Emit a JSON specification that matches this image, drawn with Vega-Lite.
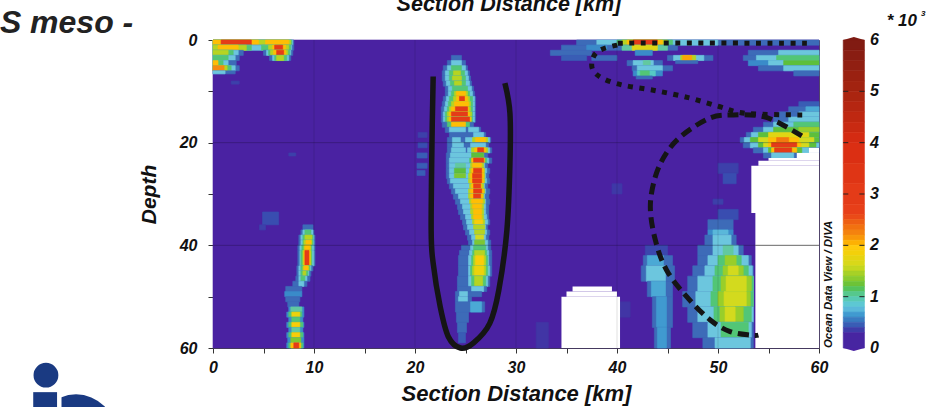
{"$schema":"https://vega.github.io/schema/vega-lite/v6.json","width":606,"height":308,"autosize":{"type":"none"},"padding":{"left":213,"top":40,"right":118,"bottom":59},"background":"white","config":{"view":{"stroke":"#555","strokeWidth":1},"font":"Liberation Sans"},
"layer":[
{"data":{"values":[
{"a":0,"b":60,"c":0,"d":60,"v":0},
{"a":0,"b":8,"c":0,"d":1,"v":0.5},{"a":0,"b":7.9,"c":0,"d":1,"v":0.8},{"a":0,"b":7.8,"c":0,"d":1,"v":1.1},{"a":0,"b":7.7,"c":0,"d":1,"v":1.5},{"a":0,"b":4.5,"c":0,"d":1,"v":2},{"a":5.2,"b":7.5,"c":0,"d":1,"v":2},{"a":0.8,"b":3.8,"c":0,"d":1,"v":3},
{"a":0,"b":8,"c":1,"d":2,"v":0.5},{"a":0,"b":7.8,"c":1,"d":2,"v":0.8},{"a":0,"b":3.8,"c":1,"d":2,"v":1.1},{"a":4.8,"b":7.7,"c":1,"d":2,"v":1.1},{"a":0,"b":3.3,"c":1,"d":2,"v":1.5},{"a":5.5,"b":7.5,"c":1,"d":2,"v":1.5},{"a":0.5,"b":2.5,"c":1,"d":2,"v":2},{"a":5.9,"b":7.2,"c":1,"d":2,"v":2},{"a":6.1,"b":6.9,"c":1,"d":2,"v":3},
{"a":0,"b":3,"c":2,"d":3,"v":0.5},{"a":5,"b":7.9,"c":2,"d":3,"v":0.5},{"a":0,"b":2.5,"c":2,"d":3,"v":0.8},{"a":5.3,"b":7.7,"c":2,"d":3,"v":0.8},{"a":0,"b":2,"c":2,"d":3,"v":1.1},{"a":5.5,"b":7.6,"c":2,"d":3,"v":1.1},{"a":0,"b":1.5,"c":2,"d":3,"v":1.5},{"a":5.7,"b":7.4,"c":2,"d":3,"v":1.5},{"a":6,"b":7.2,"c":2,"d":3,"v":2},{"a":6.3,"b":7,"c":2,"d":3,"v":3},
{"a":0,"b":2.6,"c":3,"d":4,"v":0.5},{"a":5.6,"b":7.7,"c":3,"d":4,"v":0.5},{"a":0,"b":2.2,"c":3,"d":4,"v":0.8},{"a":5.9,"b":7.5,"c":3,"d":4,"v":0.8},{"a":0,"b":1.5,"c":3,"d":4,"v":1.1},{"a":6.1,"b":7.3,"c":3,"d":4,"v":1.1},{"a":6.3,"b":7,"c":3,"d":4,"v":1.5},
{"a":0,"b":2.3,"c":4,"d":5,"v":0.5},{"a":0,"b":1.5,"c":4,"d":5,"v":0.8},{"a":0,"b":1,"c":4,"d":5,"v":1.1},{"a":0,"b":0.5,"c":4,"d":5,"v":2},
{"a":0,"b":2.6,"c":5,"d":6,"v":0.5},{"a":0,"b":2.2,"c":5,"d":6,"v":0.8},{"a":0,"b":1.8,"c":5,"d":6,"v":1.1},{"a":0,"b":1.4,"c":5,"d":6,"v":1.5},{"a":0,"b":1.1,"c":5,"d":6,"v":2.2},
{"a":0,"b":2.2,"c":6,"d":6.6,"v":0.5},{"a":0,"b":1.2,"c":6,"d":6.6,"v":0.8},
{"a":1.8,"b":2.6,"c":8,"d":8.6,"v":0.36},
{"a":23.6,"b":24.6,"c":3,"d":4,"v":0.5},
{"a":23.2,"b":25,"c":4,"d":5,"v":0.5},{"a":23.6,"b":24.6,"c":4,"d":5,"v":0.8},
{"a":22.8,"b":25.2,"c":5,"d":6,"v":0.5},{"a":23.2,"b":25,"c":5,"d":6,"v":0.8},{"a":23.6,"b":24.6,"c":5,"d":6,"v":1.1},
{"a":22.7,"b":25.4,"c":6,"d":7,"v":0.5},{"a":23,"b":25.2,"c":6,"d":7,"v":0.8},{"a":23.4,"b":24.9,"c":6,"d":7,"v":1.1},{"a":23.8,"b":24.5,"c":6,"d":7,"v":1.5},
{"a":22.7,"b":25.5,"c":7,"d":8,"v":0.5},{"a":23,"b":25.3,"c":7,"d":8,"v":0.8},{"a":23.4,"b":25,"c":7,"d":8,"v":1.1},{"a":23.7,"b":24.6,"c":7,"d":8,"v":1.5},
{"a":22.8,"b":25.6,"c":8,"d":9,"v":0.5},{"a":23.1,"b":25.4,"c":8,"d":9,"v":0.8},{"a":23.5,"b":25,"c":8,"d":9,"v":1.1},{"a":23.9,"b":24.6,"c":8,"d":9,"v":1.5},
{"a":23,"b":25.8,"c":9,"d":10,"v":0.5},{"a":23.3,"b":25.6,"c":9,"d":10,"v":0.8},{"a":23.7,"b":25.2,"c":9,"d":10,"v":1.1},
{"a":23,"b":25.9,"c":10,"d":11,"v":0.5},{"a":23.3,"b":25.7,"c":10,"d":11,"v":0.8},{"a":23.6,"b":25.4,"c":10,"d":11,"v":1.1},{"a":23.9,"b":25.2,"c":10,"d":11,"v":1.5},{"a":24.1,"b":25,"c":10,"d":11,"v":2},
{"a":22.8,"b":26,"c":11,"d":12,"v":0.5},{"a":23.1,"b":25.9,"c":11,"d":12,"v":0.8},{"a":23.4,"b":25.7,"c":11,"d":12,"v":1.1},{"a":23.8,"b":25.4,"c":11,"d":12,"v":1.5},{"a":24.1,"b":25.2,"c":11,"d":12,"v":2},{"a":24.4,"b":24.9,"c":11,"d":12,"v":3},
{"a":22.7,"b":26,"c":12,"d":13,"v":0.5},{"a":23,"b":25.9,"c":12,"d":13,"v":0.8},{"a":23.3,"b":25.7,"c":12,"d":13,"v":1.1},{"a":23.6,"b":25.5,"c":12,"d":13,"v":1.5},{"a":23.9,"b":25.3,"c":12,"d":13,"v":2},
{"a":22.6,"b":26,"c":13,"d":14,"v":0.5},{"a":22.9,"b":25.9,"c":13,"d":14,"v":0.8},{"a":23.2,"b":25.7,"c":13,"d":14,"v":1.1},{"a":23.4,"b":25.5,"c":13,"d":14,"v":1.5},{"a":23.6,"b":25.3,"c":13,"d":14,"v":2},{"a":24,"b":25.2,"c":13,"d":14,"v":3},
{"a":22.6,"b":26,"c":14,"d":15,"v":0.5},{"a":22.8,"b":25.9,"c":14,"d":15,"v":0.8},{"a":23,"b":25.7,"c":14,"d":15,"v":1.1},{"a":23.2,"b":25.6,"c":14,"d":15,"v":1.5},{"a":23.4,"b":25.4,"c":14,"d":15,"v":2},{"a":23.6,"b":25.2,"c":14,"d":15,"v":3},
{"a":22.6,"b":26,"c":15,"d":16,"v":0.5},{"a":22.8,"b":25.9,"c":15,"d":16,"v":0.8},{"a":23,"b":25.7,"c":15,"d":16,"v":1.1},{"a":23.2,"b":25.6,"c":15,"d":16,"v":1.5},{"a":23.4,"b":25.5,"c":15,"d":16,"v":2},{"a":23.6,"b":25.4,"c":15,"d":16,"v":3},
{"a":22.7,"b":25.8,"c":16,"d":17,"v":0.5},{"a":23.2,"b":25.4,"c":16,"d":17,"v":1.1},{"a":23.6,"b":25,"c":16,"d":17,"v":2},
{"a":23,"b":26.5,"c":17,"d":18,"v":0.5},{"a":23.4,"b":25,"c":17,"d":18,"v":0.8},{"a":25.3,"b":26.3,"c":17,"d":18,"v":0.8},
{"a":23.4,"b":27,"c":18,"d":19,"v":0.5},{"a":25.8,"b":26.8,"c":18,"d":19,"v":0.8},
{"a":23.2,"b":27.5,"c":19,"d":20,"v":0.5},{"a":23.7,"b":24.5,"c":19,"d":20,"v":0.8},{"a":25,"b":27.4,"c":19,"d":20,"v":0.8},{"a":25.7,"b":27.2,"c":19,"d":20,"v":1.5},{"a":26,"b":27,"c":19,"d":20,"v":2},
{"a":23.2,"b":27.3,"c":20,"d":21,"v":0.5},{"a":23.7,"b":24.8,"c":20,"d":21,"v":0.8},{"a":25.5,"b":27,"c":20,"d":21,"v":0.8},
{"a":23.2,"b":27.6,"c":21,"d":22,"v":0.5},{"a":23.6,"b":25,"c":21,"d":22,"v":0.8},{"a":25.2,"b":27.4,"c":21,"d":22,"v":0.8},{"a":25.6,"b":27.2,"c":21,"d":22,"v":1.5},{"a":25.9,"b":27,"c":21,"d":22,"v":2},{"a":26.2,"b":26.8,"c":21,"d":22,"v":3},
{"a":23.1,"b":27.2,"c":22,"d":23,"v":0.5},{"a":23.5,"b":26.8,"c":22,"d":23,"v":0.8},{"a":25.6,"b":26.8,"c":22,"d":23,"v":1.2},
{"a":23.1,"b":27.6,"c":23,"d":24,"v":0.5},{"a":23.4,"b":27.3,"c":23,"d":24,"v":0.8},{"a":25.4,"b":27.1,"c":23,"d":24,"v":1.1},{"a":25.6,"b":26.9,"c":23,"d":24,"v":2},{"a":25.8,"b":26.8,"c":23,"d":24,"v":3},
{"a":23.1,"b":27.2,"c":24,"d":25,"v":0.5},{"a":23.4,"b":26.9,"c":24,"d":25,"v":0.8},{"a":24,"b":25,"c":24,"d":25,"v":1},{"a":25.5,"b":26.8,"c":24,"d":25,"v":1.5},{"a":25.7,"b":26.6,"c":24,"d":25,"v":2},
{"a":23.1,"b":27.4,"c":25,"d":26,"v":0.5},{"a":23.4,"b":27.1,"c":25,"d":26,"v":0.8},{"a":23.9,"b":25,"c":25,"d":26,"v":1.2},{"a":25.4,"b":26.9,"c":25,"d":26,"v":1.5},{"a":25.6,"b":26.8,"c":25,"d":26,"v":2},{"a":25.8,"b":26.6,"c":25,"d":26,"v":3},
{"a":23.1,"b":27.3,"c":26,"d":27,"v":0.5},{"a":23.4,"b":27,"c":26,"d":27,"v":0.8},{"a":23.9,"b":25,"c":26,"d":27,"v":1.3},{"a":25.3,"b":26.9,"c":26,"d":27,"v":1.5},{"a":25.5,"b":26.8,"c":26,"d":27,"v":2},{"a":25.7,"b":26.6,"c":26,"d":27,"v":3},
{"a":23.2,"b":27.4,"c":27,"d":28,"v":0.5},{"a":23.5,"b":27.1,"c":27,"d":28,"v":0.8},{"a":25.3,"b":26.9,"c":27,"d":28,"v":1.5},{"a":25.5,"b":26.8,"c":27,"d":28,"v":2},{"a":25.7,"b":26.6,"c":27,"d":28,"v":3},
{"a":23.4,"b":27.2,"c":28,"d":29,"v":0.5},{"a":23.8,"b":26.9,"c":28,"d":29,"v":0.8},{"a":25.4,"b":26.8,"c":28,"d":29,"v":1.5},{"a":25.6,"b":26.6,"c":28,"d":29,"v":2},{"a":25.8,"b":26.5,"c":28,"d":29,"v":2.6},
{"a":23.6,"b":27.4,"c":29,"d":30,"v":0.5},{"a":24,"b":27,"c":29,"d":30,"v":0.8},{"a":25.3,"b":26.9,"c":29,"d":30,"v":1.5},{"a":25.5,"b":26.8,"c":29,"d":30,"v":2},{"a":25.8,"b":26.6,"c":29,"d":30,"v":3},
{"a":23.8,"b":27.3,"c":30,"d":31,"v":0.5},{"a":24.3,"b":26.9,"c":30,"d":31,"v":0.8},{"a":25.3,"b":26.8,"c":30,"d":31,"v":1.5},{"a":25.5,"b":26.7,"c":30,"d":31,"v":2},{"a":25.8,"b":26.5,"c":30,"d":31,"v":2.8},
{"a":24,"b":27.4,"c":31,"d":32,"v":0.5},{"a":24.5,"b":27,"c":31,"d":32,"v":0.8},{"a":25.4,"b":26.9,"c":31,"d":32,"v":1.5},{"a":25.6,"b":26.7,"c":31,"d":32,"v":2},
{"a":24.2,"b":27.3,"c":32,"d":33,"v":0.5},{"a":24.7,"b":27,"c":32,"d":33,"v":0.8},{"a":25.5,"b":26.8,"c":32,"d":33,"v":1.5},{"a":25.7,"b":26.6,"c":32,"d":33,"v":2},
{"a":24.3,"b":27.3,"c":33,"d":34,"v":0.5},{"a":24.8,"b":27,"c":33,"d":34,"v":0.8},{"a":25.5,"b":26.8,"c":33,"d":34,"v":1.5},{"a":25.8,"b":26.6,"c":33,"d":34,"v":2},
{"a":24.5,"b":27.3,"c":34,"d":35,"v":0.5},{"a":25,"b":27.1,"c":34,"d":35,"v":0.8},{"a":25.6,"b":26.8,"c":34,"d":35,"v":1.5},{"a":25.8,"b":26.6,"c":34,"d":35,"v":2},
{"a":24.7,"b":27.4,"c":35,"d":36,"v":0.5},{"a":25.1,"b":27.2,"c":35,"d":36,"v":0.8},{"a":25.7,"b":26.9,"c":35,"d":36,"v":1.5},{"a":25.9,"b":26.7,"c":35,"d":36,"v":1.9},
{"a":24.8,"b":27.2,"c":36,"d":37,"v":0.5},{"a":25.2,"b":27,"c":36,"d":37,"v":0.8},{"a":25.8,"b":26.9,"c":36,"d":37,"v":1.5},
{"a":25,"b":27.4,"c":37,"d":38,"v":0.5},{"a":25.4,"b":27.1,"c":37,"d":38,"v":0.8},{"a":25.9,"b":26.9,"c":37,"d":38,"v":1.5},
{"a":25.2,"b":27.3,"c":38,"d":39,"v":0.5},{"a":25.6,"b":27,"c":38,"d":39,"v":0.8},{"a":26,"b":26.8,"c":38,"d":39,"v":1.6},
{"a":25.3,"b":27.5,"c":39,"d":40,"v":0.5},{"a":25.7,"b":27.2,"c":39,"d":40,"v":0.8},{"a":25.9,"b":26.9,"c":39,"d":40,"v":1.3},
{"a":24.6,"b":27.5,"c":40,"d":41,"v":0.5},{"a":25.5,"b":27.2,"c":40,"d":41,"v":0.8},{"a":25.8,"b":27,"c":40,"d":41,"v":1.1},
{"a":24.4,"b":27.6,"c":41,"d":42,"v":0.5},{"a":25.4,"b":27.3,"c":41,"d":42,"v":0.8},{"a":25.7,"b":27.1,"c":41,"d":42,"v":1.1},{"a":25.9,"b":26.9,"c":41,"d":42,"v":1.5},
{"a":24.3,"b":27.6,"c":42,"d":44,"v":0.5},{"a":25.3,"b":27.3,"c":42,"d":44,"v":0.8},{"a":25.6,"b":27.2,"c":42,"d":44,"v":1.1},{"a":25.8,"b":27,"c":42,"d":44,"v":1.5},{"a":26,"b":26.8,"c":42,"d":44,"v":1.9},
{"a":24.3,"b":27.6,"c":44,"d":46,"v":0.5},{"a":25.3,"b":27.4,"c":44,"d":46,"v":0.8},{"a":25.5,"b":27.2,"c":44,"d":46,"v":1.1},{"a":25.7,"b":27,"c":44,"d":46,"v":1.5},{"a":25.9,"b":26.8,"c":44,"d":46,"v":1.8},
{"a":24.2,"b":27.4,"c":46,"d":48,"v":0.5},{"a":25.3,"b":27.2,"c":46,"d":48,"v":0.8},{"a":25.6,"b":27,"c":46,"d":48,"v":1.1},{"a":25.9,"b":26.7,"c":46,"d":48,"v":1.5},
{"a":24.2,"b":27.1,"c":48,"d":49,"v":0.5},{"a":25.6,"b":26.8,"c":48,"d":49,"v":0.8},
{"a":24,"b":26.6,"c":49,"d":50,"v":0.5},{"a":24.4,"b":25.2,"c":49,"d":50,"v":0.8},
{"a":24,"b":25.6,"c":50,"d":51,"v":0.5},{"a":24.3,"b":25.2,"c":50,"d":51,"v":0.8},
{"a":24,"b":26.9,"c":51,"d":53,"v":0.5},{"a":25.5,"b":26.6,"c":51,"d":53,"v":0.7},
{"a":24.1,"b":25.3,"c":53,"d":55,"v":0.5},
{"a":24.2,"b":25.1,"c":55,"d":57,"v":0.5},
{"a":24.3,"b":25,"c":57,"d":59,"v":0.45},
{"a":20.3,"b":21.2,"c":18,"d":19,"v":0.36},{"a":20.3,"b":21.2,"c":20,"d":21,"v":0.4},{"a":20.2,"b":21.2,"c":22,"d":23,"v":0.45},{"a":20.2,"b":21.2,"c":24,"d":25,"v":0.45},{"a":20.2,"b":21,"c":25.4,"d":26.4,"v":0.45},
{"a":7.5,"b":8.2,"c":22,"d":22.6,"v":0.36},
{"a":4.9,"b":6.5,"c":33.5,"d":36,"v":0.4},{"a":4.6,"b":5.2,"c":36,"d":37,"v":0.36},
{"a":8.9,"b":9.9,"c":36,"d":37,"v":0.5},
{"a":8.7,"b":10,"c":37,"d":38,"v":0.5},{"a":8.9,"b":9.9,"c":37,"d":38,"v":0.8},{"a":9.1,"b":9.7,"c":37,"d":38,"v":1.1},
{"a":8.5,"b":10.1,"c":38,"d":39,"v":0.5},{"a":8.7,"b":10,"c":38,"d":39,"v":0.8},{"a":8.9,"b":9.9,"c":38,"d":39,"v":1.1},{"a":9.1,"b":9.8,"c":38,"d":39,"v":1.5},
{"a":8.5,"b":10.1,"c":39,"d":40,"v":0.5},{"a":8.7,"b":10,"c":39,"d":40,"v":0.8},{"a":8.9,"b":9.9,"c":39,"d":40,"v":1.1},{"a":9,"b":9.8,"c":39,"d":40,"v":1.5},{"a":9.2,"b":9.7,"c":39,"d":40,"v":2},
{"a":8.4,"b":10.1,"c":40,"d":41,"v":0.5},{"a":8.6,"b":10,"c":40,"d":41,"v":0.8},{"a":8.8,"b":9.8,"c":40,"d":41,"v":1.1},{"a":9,"b":9.7,"c":40,"d":41,"v":1.5},{"a":9.1,"b":9.6,"c":40,"d":41,"v":2},
{"a":8.4,"b":10.1,"c":41,"d":44,"v":0.5},{"a":8.6,"b":10,"c":41,"d":44,"v":0.8},{"a":8.7,"b":9.8,"c":41,"d":44,"v":1.1},{"a":8.9,"b":9.7,"c":41,"d":44,"v":1.5},{"a":9,"b":9.6,"c":41,"d":44,"v":2},{"a":9.1,"b":9.5,"c":41,"d":44,"v":3},
{"a":8.3,"b":9.9,"c":44,"d":45,"v":0.5},{"a":8.5,"b":9.7,"c":44,"d":45,"v":0.8},{"a":8.7,"b":9.6,"c":44,"d":45,"v":1.1},{"a":8.9,"b":9.5,"c":44,"d":45,"v":1.5},{"a":9,"b":9.4,"c":44,"d":45,"v":2},
{"a":8.3,"b":9.7,"c":45,"d":46,"v":0.5},{"a":8.5,"b":9.5,"c":45,"d":46,"v":0.8},{"a":8.7,"b":9.4,"c":45,"d":46,"v":1.1},{"a":8.9,"b":9.2,"c":45,"d":46,"v":1.5},
{"a":8.2,"b":9.6,"c":46,"d":47,"v":0.5},{"a":8.5,"b":9.3,"c":46,"d":47,"v":0.8},{"a":8.7,"b":9.1,"c":46,"d":47,"v":1.1},
{"a":7.9,"b":9.3,"c":47,"d":48,"v":0.5},{"a":8.5,"b":9,"c":47,"d":48,"v":0.8},
{"a":7.2,"b":8.8,"c":48,"d":49,"v":0.5},{"a":7.1,"b":8.8,"c":49,"d":50,"v":0.6},{"a":7.2,"b":8.6,"c":50,"d":51,"v":0.5},{"a":7.4,"b":8.5,"c":51,"d":52,"v":0.5},
{"a":7.5,"b":9,"c":52,"d":53,"v":0.6},{"a":7.7,"b":8.8,"c":52,"d":53,"v":1},
{"a":7.3,"b":9,"c":53,"d":54,"v":0.6},{"a":7.5,"b":8.8,"c":53,"d":54,"v":1.1},{"a":7.8,"b":8.6,"c":53,"d":54,"v":1.8},
{"a":7.5,"b":8.9,"c":54,"d":55,"v":0.6},{"a":7.8,"b":8.6,"c":54,"d":55,"v":1.1},
{"a":7.3,"b":9,"c":55,"d":56,"v":0.6},{"a":7.5,"b":8.9,"c":55,"d":56,"v":1.1},{"a":7.8,"b":8.6,"c":55,"d":56,"v":1.9},
{"a":7.5,"b":8.9,"c":56,"d":57,"v":0.6},{"a":7.8,"b":8.6,"c":56,"d":57,"v":1},
{"a":7.3,"b":9,"c":57,"d":58,"v":0.6},{"a":7.5,"b":8.9,"c":57,"d":58,"v":1.1},{"a":7.8,"b":8.6,"c":57,"d":58,"v":1.9},
{"a":7.4,"b":9,"c":58,"d":59,"v":0.6},{"a":7.7,"b":8.7,"c":58,"d":59,"v":1.3},
{"a":7.3,"b":9,"c":59,"d":60,"v":0.6},{"a":7.5,"b":8.9,"c":59,"d":60,"v":1.1},{"a":7.7,"b":8.7,"c":59,"d":60,"v":2},{"a":8,"b":8.5,"c":59,"d":60,"v":3},
{"a":36,"b":60,"c":0,"d":1,"v":0.5},{"a":38,"b":50,"c":0,"d":1,"v":0.8},{"a":40,"b":45.5,"c":0,"d":1,"v":1.1},{"a":40.5,"b":45,"c":0,"d":1,"v":1.5},{"a":41,"b":44.5,"c":0,"d":1,"v":2},{"a":41.6,"b":44,"c":0,"d":1,"v":3},
{"a":34.5,"b":46,"c":1,"d":2,"v":0.5},{"a":37,"b":39,"c":1,"d":2,"v":0.6},{"a":40.5,"b":45,"c":1,"d":2,"v":1},{"a":41.5,"b":44,"c":1,"d":2,"v":1.7},
{"a":33.4,"b":37.5,"c":2,"d":3,"v":0.5},{"a":41.8,"b":43.5,"c":2,"d":3,"v":0.6},{"a":53,"b":60,"c":2,"d":3,"v":0.5},{"a":56,"b":60,"c":2,"d":3,"v":0.8},
{"a":34.5,"b":37,"c":3,"d":4,"v":0.45},{"a":37.5,"b":40,"c":3,"d":4,"v":0.5},{"a":45,"b":49.5,"c":3,"d":4,"v":0.5},{"a":45.6,"b":48.6,"c":3,"d":4,"v":0.8},{"a":46.3,"b":47.8,"c":3,"d":4,"v":1.5},{"a":46.5,"b":47.4,"c":3,"d":4,"v":2.1},{"a":52.5,"b":60,"c":3,"d":4,"v":0.5},{"a":53.8,"b":60,"c":3,"d":4,"v":0.8},{"a":55.8,"b":60,"c":3,"d":4,"v":1.1},
{"a":45.8,"b":48,"c":4,"d":4.6,"v":0.5},{"a":41,"b":44.5,"c":4,"d":5,"v":0.5},{"a":41.6,"b":43.6,"c":4,"d":5,"v":0.8},{"a":42.6,"b":43.3,"c":4,"d":5,"v":1},{"a":53,"b":60,"c":4,"d":5,"v":0.6},{"a":55,"b":60,"c":4,"d":5,"v":0.8},{"a":56.5,"b":60,"c":4,"d":5,"v":1.2},
{"a":41.5,"b":45.5,"c":5,"d":6,"v":0.5},{"a":42,"b":44.5,"c":5,"d":6,"v":0.8},{"a":54,"b":60,"c":5,"d":6,"v":0.5},{"a":56.5,"b":60,"c":5,"d":6,"v":0.8},
{"a":41.6,"b":44.5,"c":6,"d":7,"v":0.6},{"a":42,"b":43.8,"c":6,"d":7,"v":0.9},{"a":42.3,"b":43.2,"c":6,"d":7,"v":1.1},{"a":57.5,"b":60,"c":6,"d":7,"v":0.5},
{"a":41.9,"b":43.5,"c":7,"d":7.6,"v":0.5},
{"a":58,"b":60,"c":12,"d":13,"v":0.45},
{"a":57,"b":60,"c":13,"d":14,"v":0.5},{"a":58.7,"b":60,"c":13,"d":14,"v":0.7},
{"a":56,"b":60,"c":14,"d":15,"v":0.5},{"a":58,"b":60,"c":14,"d":15,"v":0.8},
{"a":55.5,"b":60,"c":15,"d":16,"v":0.5},{"a":57,"b":60,"c":15,"d":16,"v":0.8},
{"a":54.5,"b":60,"c":16,"d":17,"v":0.5},{"a":55.5,"b":60,"c":16,"d":17,"v":0.8},{"a":57.5,"b":60,"c":16,"d":17,"v":1.1},
{"a":53.5,"b":60,"c":17,"d":18,"v":0.5},{"a":54.5,"b":60,"c":17,"d":18,"v":0.8},{"a":55.5,"b":60,"c":17,"d":18,"v":1.2},{"a":58,"b":60,"c":17,"d":18,"v":1.4},
{"a":52.8,"b":60,"c":18,"d":19,"v":0.5},{"a":53.3,"b":60,"c":18,"d":19,"v":0.8},{"a":54,"b":60,"c":18,"d":19,"v":1.2},{"a":55,"b":59,"c":18,"d":19,"v":1.7},
{"a":52.2,"b":60,"c":19,"d":20,"v":0.5},{"a":52.6,"b":60,"c":19,"d":20,"v":0.8},{"a":53.2,"b":60,"c":19,"d":20,"v":1.2},{"a":54,"b":59.5,"c":19,"d":20,"v":1.6},{"a":55,"b":58,"c":19,"d":20,"v":2},{"a":55.8,"b":57,"c":19,"d":20,"v":2.3},
{"a":52.5,"b":60,"c":20,"d":21,"v":0.5},{"a":53.2,"b":60,"c":20,"d":21,"v":0.8},{"a":54,"b":59.7,"c":20,"d":21,"v":1.2},{"a":54.5,"b":59,"c":20,"d":21,"v":1.6},{"a":55,"b":58.2,"c":20,"d":21,"v":2},{"a":55.3,"b":57.8,"c":20,"d":21,"v":3},
{"a":53.5,"b":60,"c":21,"d":22,"v":0.5},{"a":54.5,"b":59,"c":21,"d":22,"v":0.8},{"a":55,"b":58.3,"c":21,"d":22,"v":1.2},{"a":55.3,"b":57.8,"c":21,"d":22,"v":2},{"a":55.6,"b":57.3,"c":21,"d":22,"v":3},
{"a":54.5,"b":58,"c":22,"d":23,"v":0.5},{"a":55.3,"b":57.5,"c":22,"d":23,"v":0.8},
{"a":50,"b":52,"c":24,"d":26,"v":0.36},{"a":50.5,"b":51.8,"c":26,"d":28,"v":0.4},
{"a":39.5,"b":40.5,"c":28,"d":30,"v":0.34},{"a":49.5,"b":50.5,"c":31,"d":32,"v":0.36},{"a":50,"b":52,"c":33,"d":35,"v":0.4},
{"a":49,"b":51.5,"c":35,"d":37,"v":0.5},{"a":49,"b":51.5,"c":37,"d":38,"v":0.6},{"a":49.5,"b":51,"c":37,"d":38,"v":0.75},
{"a":48.7,"b":51.8,"c":38,"d":40,"v":0.5},{"a":49.5,"b":51.3,"c":38,"d":40,"v":0.8},
{"a":48,"b":52.5,"c":40,"d":42,"v":0.5},{"a":49.5,"b":52,"c":40,"d":42,"v":0.8},{"a":50.5,"b":51.5,"c":40,"d":42,"v":1},
{"a":42.8,"b":45,"c":40,"d":42,"v":0.38},
{"a":48,"b":53.3,"c":42,"d":44,"v":0.5},{"a":49,"b":53,"c":42,"d":44,"v":0.8},{"a":50,"b":52.3,"c":42,"d":44,"v":1.1},{"a":50.7,"b":51.8,"c":42,"d":44,"v":1.4},
{"a":42.6,"b":45.5,"c":42,"d":44,"v":0.5},{"a":43,"b":44.6,"c":42,"d":44,"v":0.7},
{"a":47.5,"b":53.5,"c":44,"d":46,"v":0.5},{"a":48.7,"b":53.4,"c":44,"d":46,"v":0.8},{"a":49.7,"b":53,"c":44,"d":46,"v":1.1},{"a":50.5,"b":52.5,"c":44,"d":46,"v":1.4},{"a":51,"b":52,"c":44,"d":46,"v":1.6},
{"a":42.4,"b":45.7,"c":44,"d":47,"v":0.5},{"a":42.9,"b":44.8,"c":44,"d":47,"v":0.8},
{"a":47,"b":53.5,"c":46,"d":49,"v":0.5},{"a":48,"b":53.5,"c":46,"d":49,"v":0.8},{"a":49.5,"b":53.5,"c":46,"d":49,"v":1.1},{"a":50.3,"b":53.3,"c":46,"d":49,"v":1.4},{"a":50.8,"b":52.8,"c":46,"d":49,"v":1.6},
{"a":43,"b":45.5,"c":47,"d":50,"v":0.5},{"a":43.4,"b":44.8,"c":47,"d":50,"v":0.7},
{"a":46.5,"b":53.5,"c":49,"d":52,"v":0.5},{"a":47.8,"b":53.5,"c":49,"d":52,"v":0.8},{"a":49.3,"b":53.5,"c":49,"d":52,"v":1.1},{"a":50,"b":53.2,"c":49,"d":52,"v":1.4},{"a":50.6,"b":52.8,"c":49,"d":52,"v":1.6},
{"a":43.5,"b":45.5,"c":50,"d":56,"v":0.5},{"a":43.9,"b":44.9,"c":50,"d":56,"v":0.65},
{"a":47,"b":53.5,"c":52,"d":55,"v":0.5},{"a":48,"b":53.5,"c":52,"d":55,"v":0.8},{"a":49.6,"b":53.3,"c":52,"d":55,"v":1.1},{"a":50.2,"b":52.5,"c":52,"d":55,"v":1.4},{"a":50.7,"b":51.7,"c":52,"d":55,"v":1.6},
{"a":47.5,"b":53.5,"c":55,"d":58,"v":0.5},{"a":49,"b":53.3,"c":55,"d":58,"v":0.8},{"a":50.3,"b":53,"c":55,"d":58,"v":1.1},
{"a":43.7,"b":45.3,"c":56,"d":60,"v":0.5},{"a":44,"b":44.9,"c":56,"d":60,"v":0.65},
{"a":48.5,"b":53.5,"c":58,"d":60,"v":0.5},{"a":49.7,"b":53.2,"c":58,"d":60,"v":0.8},
{"a":40.2,"b":41.3,"c":51,"d":54,"v":0.33},{"a":32,"b":33.2,"c":55,"d":60,"v":0.33},
{"a":62.4,"b":64.5,"c":0,"d":2,"v":5.9},{"a":62.4,"b":64.5,"c":2,"d":4,"v":5.7},{"a":62.4,"b":64.5,"c":4,"d":6,"v":5.5},{"a":62.4,"b":64.5,"c":6,"d":8,"v":5.3},{"a":62.4,"b":64.5,"c":8,"d":10,"v":5.1},{"a":62.4,"b":64.5,"c":10,"d":12,"v":4.9},{"a":62.4,"b":64.5,"c":12,"d":14,"v":4.7},{"a":62.4,"b":64.5,"c":14,"d":16,"v":4.5},{"a":62.4,"b":64.5,"c":16,"d":18,"v":4.3},{"a":62.4,"b":64.5,"c":18,"d":20,"v":4.1},{"a":62.4,"b":64.5,"c":20,"d":24,"v":3.8},{"a":62.4,"b":64.5,"c":24,"d":28,"v":3.4},{"a":62.4,"b":64.5,"c":28,"d":32,"v":3},{"a":62.4,"b":64.5,"c":32,"d":34,"v":2.7},{"a":62.4,"b":64.5,"c":34,"d":35,"v":2.55},{"a":62.4,"b":64.5,"c":35,"d":36,"v":2.45},{"a":62.4,"b":64.5,"c":36,"d":37,"v":2.35},{"a":62.4,"b":64.5,"c":37,"d":38,"v":2.25},{"a":62.4,"b":64.5,"c":38,"d":39,"v":2.15},{"a":62.4,"b":64.5,"c":39,"d":40,"v":2.05},{"a":62.4,"b":64.5,"c":40,"d":41,"v":1.95},{"a":62.4,"b":64.5,"c":41,"d":42,"v":1.85},{"a":62.4,"b":64.5,"c":42,"d":43,"v":1.75},{"a":62.4,"b":64.5,"c":43,"d":44,"v":1.65},{"a":62.4,"b":64.5,"c":44,"d":45,"v":1.55},{"a":62.4,"b":64.5,"c":45,"d":46,"v":1.45},{"a":62.4,"b":64.5,"c":46,"d":47,"v":1.35},{"a":62.4,"b":64.5,"c":47,"d":48,"v":1.25},{"a":62.4,"b":64.5,"c":48,"d":49,"v":1.15},{"a":62.4,"b":64.5,"c":49,"d":50,"v":1.05},{"a":62.4,"b":64.5,"c":50,"d":51,"v":0.95},{"a":62.4,"b":64.5,"c":51,"d":52,"v":0.85},{"a":62.4,"b":64.5,"c":52,"d":53,"v":0.75},{"a":62.4,"b":64.5,"c":53,"d":54,"v":0.65},{"a":62.4,"b":64.5,"c":54,"d":55,"v":0.55},{"a":62.4,"b":64.5,"c":55,"d":56,"v":0.45},{"a":62.4,"b":64.5,"c":56,"d":57,"v":0.35},{"a":62.4,"b":64.5,"c":57,"d":60,"v":0.15}
]},"mark":{"type":"rect","strokeWidth":0.6,"clip":false},"encoding":{
"x":{"field":"a","type":"quantitative","scale":{"domain":[0,60],"nice":false},"axis":{"values":[0,5,10,15,20,25,30,35,40,45,50,55,60],"labelExpr":"datum.value%10==0?datum.label:''","grid":false,"labelFlush":false,"domainColor":"#444","tickColor":"#333","tickSize":5,"labelFont":"Liberation Sans","labelFontSize":16,"labelFontWeight":"bold","labelFontStyle":"italic","labelColor":"#111","labelPadding":6,"title":"Section Distance [km]","titleFont":"Liberation Sans","titleFontSize":22,"titleFontWeight":"bold","titleFontStyle":"italic","titleColor":"#111","titlePadding":8,"labelOverlap":false}},
"x2":{"field":"b"},
"y":{"field":"c","type":"quantitative","scale":{"domain":[0,60],"reverse":true,"nice":false},"axis":{"values":[0,10,20,30,40,50,60],"labelExpr":"datum.value%20==0?datum.label:''","grid":false,"labelFlush":false,"domainColor":"#444","tickColor":"#333","tickSize":5,"labelFont":"Liberation Sans","labelFontSize":16,"labelFontWeight":"bold","labelFontStyle":"italic","labelColor":"#111","labelPadding":11,"title":"Depth","titleFont":"Liberation Sans","titleFontSize":21,"titleFontWeight":"bold","titleFontStyle":"italic","titleColor":"#111","titlePadding":20,"labelOverlap":false}},
"y2":{"field":"d"},
"fill":{"field":"v","type":"quantitative","scale":{"domain":[0,0.3,0.5,0.8,1,1.2,1.6,1.95,2.2,2.6,4,5,6],"range":["#4a22a2","#45289f","#3d6bb8","#6cc6de","#62c9a0","#5dbf3c","#d3da1e","#ffcb0c","#f58a10","#e8401a","#d92c12","#a62410","#7d1a12"]},"legend":null},
"stroke":{"field":"v","type":"quantitative","scale":{"domain":[0,0.3,0.5,0.8,1,1.2,1.6,1.95,2.2,2.6,4,5,6],"range":["#4a22a2","#45289f","#3d6bb8","#6cc6de","#62c9a0","#5dbf3c","#d3da1e","#ffcb0c","#f58a10","#e8401a","#d92c12","#a62410","#7d1a12"]},"legend":null}
}},
{"data":{"values":[
{"a":34.5,"b":40.3,"c":50,"d":60},{"a":35,"b":40,"c":49,"d":50},{"a":35.6,"b":39.5,"c":48,"d":49},
{"a":53.3,"b":60,"c":24.5,"d":33.7},{"a":53.7,"b":60,"c":33.7,"d":60},{"a":54,"b":60,"c":23.5,"d":24.5},{"a":55,"b":60,"c":23,"d":23.5},{"a":57.8,"b":60,"c":22,"d":23},{"a":59,"b":60,"c":21,"d":22}
]},"mark":{"type":"rect","fill":"white"},"encoding":{"x":{"field":"a","type":"quantitative"},"x2":{"field":"b"},"y":{"field":"c","type":"quantitative"},"y2":{"field":"d"}}},
{"data":{"values":[{"g":10},{"g":20},{"g":30},{"g":40},{"g":50}]},"mark":{"type":"rule","color":"#000","opacity":0.12,"strokeWidth":1},"encoding":{"x":{"field":"g","type":"quantitative"}}},
{"data":{"values":[{"g":20},{"g":40}]},"mark":{"type":"rule","color":"#000","opacity":0.22,"strokeWidth":1},"encoding":{"y":{"field":"g","type":"quantitative"}}},
{"data":{"values":[{"a":53.7,"b":60,"g":40}]},"mark":{"type":"rule","color":"#000","opacity":0.45,"strokeWidth":1},"encoding":{"x":{"field":"a","type":"quantitative"},"x2":{"field":"b"},"y":{"field":"g","type":"quantitative"}}},
{"data":{"values":[{"a":62.4,"b":62.9,"g":10},{"a":64,"b":64.5,"g":10},{"a":62.4,"b":62.9,"g":20},{"a":64,"b":64.5,"g":20},{"a":62.4,"b":62.9,"g":30},{"a":64,"b":64.5,"g":30},{"a":62.4,"b":62.9,"g":40},{"a":64,"b":64.5,"g":40},{"a":62.4,"b":62.9,"g":50},{"a":64,"b":64.5,"g":50}]},"mark":{"type":"rule","color":"#222","strokeWidth":1,"clip":false},"encoding":{"x":{"field":"a","type":"quantitative"},"x2":{"field":"b"},"y":{"field":"g","type":"quantitative"}}},
{"data":{"values":[{"x":65.05,"z":0,"t":"6"},{"x":65.05,"z":10,"t":"5"},{"x":65.05,"z":20,"t":"4"},{"x":65.05,"z":30,"t":"3"},{"x":65.05,"z":40,"t":"2"},{"x":65.05,"z":50,"t":"1"},{"x":65.05,"z":60,"t":"0"}]},"mark":{"type":"text","font":"Liberation Sans","fontSize":16,"fontWeight":"bold","fontStyle":"italic","color":"#111","align":"left"},"encoding":{"x":{"field":"x","type":"quantitative"},"y":{"field":"z","type":"quantitative"},"text":{"field":"t"}}},
{"data":{"values":[{"i":1,"x":21.8,"z":7.1},{"i":2,"x":21.7,"z":17.5},{"i":3,"x":21.6,"z":37},{"i":4,"x":21.8,"z":43.5},{"i":5,"x":22.5,"z":52},{"i":6,"x":23.3,"z":57.8},{"i":7,"x":24.5,"z":60},{"i":8,"x":25.8,"z":59},{"i":9,"x":27.4,"z":55.2},{"i":10,"x":28.3,"z":48.7},{"i":11,"x":29.1,"z":37},{"i":12,"x":29.4,"z":24},{"i":13,"x":29.4,"z":14.3},{"i":14,"x":28.9,"z":8.4}]},"mark":{"type":"line","color":"#151515","strokeWidth":5.5,"interpolate":"cardinal","clip":false},"encoding":{"x":{"field":"x","type":"quantitative"},"y":{"field":"z","type":"quantitative"},"order":{"field":"i"}}},
{"data":{"values":[{"i":1,"x":58.8,"z":0.65},{"i":2,"x":41.6,"z":0.6},{"i":3,"x":40,"z":1},{"i":4,"x":38.3,"z":2},{"i":5,"x":37.6,"z":3.6},{"i":6,"x":37.6,"z":5.8},{"i":7,"x":38.6,"z":7.5},{"i":8,"x":40.6,"z":8.8},{"i":9,"x":43.9,"z":9.9},{"i":10,"x":47.2,"z":11.3},{"i":11,"x":50.2,"z":13},{"i":12,"x":52.8,"z":14.3},{"i":13,"x":58.4,"z":14.6}]},"mark":{"type":"line","color":"#151515","strokeWidth":5,"strokeDash":[5,6.5],"interpolate":"cardinal"},"encoding":{"x":{"field":"x","type":"quantitative"},"y":{"field":"z","type":"quantitative"},"order":{"field":"i"}}},
{"data":{"values":[{"i":1,"x":58.3,"z":18.7},{"i":2,"x":56.1,"z":16.2},{"i":3,"x":54.2,"z":14.8},{"i":4,"x":51.5,"z":14.6},{"i":5,"x":49.2,"z":15.2},{"i":6,"x":46.5,"z":18.5},{"i":7,"x":44.9,"z":22},{"i":8,"x":43.8,"z":26.6},{"i":9,"x":43.3,"z":32.5},{"i":10,"x":43.8,"z":39},{"i":11,"x":44.9,"z":44.8},{"i":12,"x":46.9,"z":50},{"i":13,"x":49.2,"z":54.5},{"i":14,"x":51.2,"z":56.8},{"i":15,"x":53.3,"z":57.5},{"i":16,"x":54,"z":57.5}]},"mark":{"type":"line","color":"#151515","strokeWidth":5,"strokeDash":[11,6],"interpolate":"cardinal"},"encoding":{"x":{"field":"x","type":"quantitative"},"y":{"field":"z","type":"quantitative"},"order":{"field":"i"}}},
{"data":{"values":[{"x":29.3,"z":-6.8,"t":"Section Distance [km]"}]},"mark":{"type":"text","font":"Liberation Sans","fontSize":21.5,"fontWeight":"bold","fontStyle":"italic","color":"#111","clip":false},"encoding":{"x":{"field":"x","type":"quantitative"},"y":{"field":"z","type":"quantitative"},"text":{"field":"t"}}},
{"data":{"values":[{"x":-21.1,"z":-3.4,"t":"S meso -"}]},"mark":{"type":"text","font":"Liberation Sans","fontSize":32,"fontWeight":"bold","fontStyle":"italic","color":"#222","align":"left"},"encoding":{"x":{"field":"x","type":"quantitative"},"y":{"field":"z","type":"quantitative"},"text":{"field":"t"}}},
{"data":{"values":[{"x":66.7,"z":-3.7,"t":"* 10"}]},"mark":{"type":"text","font":"Liberation Sans","fontSize":17,"fontWeight":"bold","fontStyle":"italic","color":"#111","align":"left"},"encoding":{"x":{"field":"x","type":"quantitative"},"y":{"field":"z","type":"quantitative"},"text":{"field":"t"}}},
{"data":{"values":[{"x":70.1,"z":-5,"t":"3"}]},"mark":{"type":"text","font":"Liberation Sans","fontSize":8,"fontWeight":"bold","fontStyle":"italic","color":"#111","align":"left"},"encoding":{"x":{"field":"x","type":"quantitative"},"y":{"field":"z","type":"quantitative"},"text":{"field":"t"}}},
{"data":{"values":[{"x":61,"z":60,"t":"Ocean Data View / DIVA"}]},"mark":{"type":"text","font":"Liberation Sans","fontSize":11.4,"fontWeight":"bold","fontStyle":"italic","color":"#111","align":"left","angle":270},"encoding":{"x":{"field":"x","type":"quantitative"},"y":{"field":"z","type":"quantitative"},"text":{"field":"t"}}},
{"data":{"values":[{"x":63.45,"z":0}]},"mark":{"type":"point","filled":true,"opacity":1,"color":"#7d1a12","size":440,"shape":"M-1,0L0,-0.28L1,0Z"},"encoding":{"x":{"field":"x","type":"quantitative"},"y":{"field":"z","type":"quantitative"}}},
{"data":{"values":[{"x":63.45,"z":60}]},"mark":{"type":"point","filled":true,"opacity":1,"color":"#4a22a2","size":440,"shape":"M-1,0L0,0.28L1,0Z"},"encoding":{"x":{"field":"x","type":"quantitative"},"y":{"field":"z","type":"quantitative"}}},
{"data":{"values":[{"x":-13.56,"z":76.8}]},"mark":{"type":"point","filled":true,"opacity":1,"color":"#1a3a82","size":6362,"shape":"circle"},"encoding":{"x":{"field":"x","type":"quantitative"},"y":{"field":"z","type":"quantitative"}}},
{"data":{"values":[{"a":-19,"b":-15,"c":67,"d":72}]},"mark":{"type":"rect","fill":"white","clip":false},"encoding":{"x":{"field":"a","type":"quantitative"},"x2":{"field":"b"},"y":{"field":"c","type":"quantitative"},"y2":{"field":"d"}}},
{"data":{"values":[{"a":-17.8,"b":-15.44,"c":68.6,"d":72}]},"mark":{"type":"rect","fill":"#1a3a82"},"encoding":{"x":{"field":"a","type":"quantitative"},"x2":{"field":"b"},"y":{"field":"c","type":"quantitative"},"y2":{"field":"d"}}},
{"data":{"values":[{"x":-16.54,"z":65.3}]},"mark":{"type":"point","filled":true,"opacity":1,"color":"#1a3a82","size":616,"shape":"circle"},"encoding":{"x":{"field":"x","type":"quantitative"},"y":{"field":"z","type":"quantitative"}}}
]}
